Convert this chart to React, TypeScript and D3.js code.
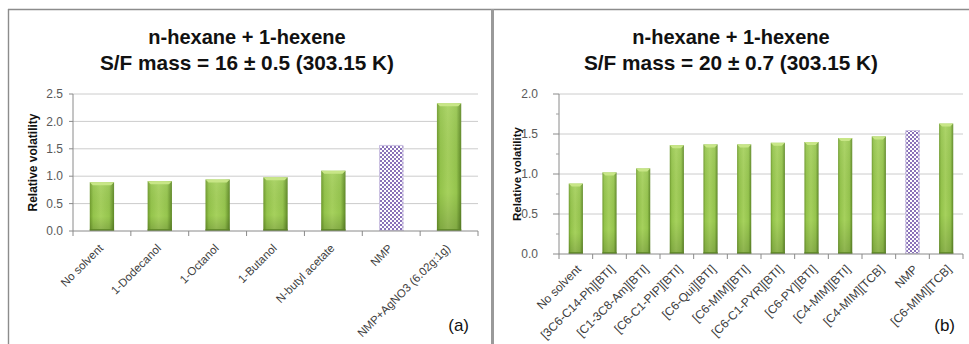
import React from "react";
import * as d3 from "d3";

// Relative volatility of n-hexane / 1-hexene with different solvents
const leftCategories = [
  "No solvent",
  "1-Dodecanol",
  "1-Octanol",
  "1-Butanol",
  "N-butyl acetate",
  "NMP",
  "NMP+AgNO3 (6.02g:1g)",
];
const leftValues = [0.89, 0.91, 0.94, 0.98, 1.1, 1.57, 2.33];
const leftTicks = [0, 0.5, 1.0, 1.5, 2.0, 2.5];

const rightCategories = [
  "No solvent",
  "[3C6-C14-Ph][BTI]",
  "[C1-3C8-Am][BTI]",
  "[C6-C1-PIP][BTI]",
  "[C6-Qui][BTI]",
  "[C6-MIM][BTI]",
  "[C6-C1-PYR][BTI]",
  "[C6-PY][BTI]",
  "[C4-MIM][BTI]",
  "[C4-MIM][TCB]",
  "NMP",
  "[C6-MIM][TCB]",
];
const rightValues = [0.88, 1.02, 1.07, 1.36, 1.37, 1.37, 1.39, 1.4, 1.45, 1.47, 1.55, 1.63];
const rightTicks = [0, 0.5, 1.0, 1.5, 2.0];
const rightMinorTicks = [0.25, 0.75, 1.25, 1.75];

const leftTitle = ["n-hexane + 1-hexene", "S/F mass = 16 \u00b1 0.5 (303.15 K)"];
const rightTitle = ["n-hexane + 1-hexene", "S/F mass = 20 \u00b1 0.7 (303.15 K)"];

const FONT = "'Liberation Sans', Arial, sans-serif";
const PATTERN_CATEGORY = "NMP";

type PanelProps = {
  id: string;
  cats: string[];
  vals: number[];
  ticks: number[];
  minor: number[];
  title: string[];
  tag: string;
  x0: number;
  x1: number;
  y0: number;
  y1: number;
  centerX: number;
  tickLabelX: number;
  yTitleX: number;
  yTitleSize: number;
  tagX: number;
  majorTick: number;
  labelDx: number;
  labelDy: number;
  labelSize: number;
};

function Panel(p: PanelProps) {
  const yMax = p.ticks[p.ticks.length - 1];
  const x = d3
    .scaleBand<string>()
    .domain(p.cats)
    .range([p.x0, p.x1])
    .paddingInner(0.58)
    .paddingOuter(0.29);
  const y = d3.scaleLinear().domain([0, yMax]).range([p.y1, p.y0]);
  const step = x.step();
  const fmt = d3.format(".1f");

  return (
    <g>
      {/* title */}
      {p.title.map((line, i) => (
        <text
          key={"title" + i}
          x={p.centerX}
          y={44 + i * 26}
          textAnchor="middle"
          fontFamily={FONT}
          fontWeight="bold"
          fontSize={i === 0 ? 20 : 20.8}
          fill="#111"
        >
          {line}
        </text>
      ))}

      {/* gridlines */}
      {p.ticks.slice(1).map((t) => (
        <line
          key={"g" + t}
          x1={p.x0}
          x2={p.x1}
          y1={y(t)}
          y2={y(t)}
          stroke="#cccccc"
          strokeWidth={1}
        />
      ))}

      {/* y axis */}
      <line x1={p.x0} x2={p.x0} y1={p.y0} y2={p.y1} stroke="#8a8a8a" strokeWidth={1} />
      {p.ticks.map((t) => (
        <g key={"t" + t}>
          <line
            x1={p.x0 - p.majorTick}
            x2={p.x0}
            y1={y(t)}
            y2={y(t)}
            stroke="#8a8a8a"
          />
          <text
            x={p.tickLabelX}
            y={y(t)}
            dy="0.35em"
            textAnchor="end"
            fontFamily={FONT}
            fontSize={12}
            fill="#595959"
          >
            {fmt(t)}
          </text>
        </g>
      ))}
      {p.minor.map((t) => (
        <line
          key={"m" + t}
          x1={p.x0 - 3}
          x2={p.x0}
          y1={y(t)}
          y2={y(t)}
          stroke="#a0a0a0"
        />
      ))}
      <text
        transform={`translate(${p.yTitleX},${(p.y0 + p.y1) / 2}) rotate(-90)`}
        textAnchor="middle"
        dy="0.35em"
        fontFamily={FONT}
        fontWeight="bold"
        fontSize={p.yTitleSize}
        fill="#111"
      >
        Relative volatility
      </text>

      {/* bars */}
      {p.cats.map((c, i) => {
        const bx = x(c) as number;
        const bw = x.bandwidth();
        const top = y(p.vals[i]);
        const h = p.y1 - top;
        if (c === PATTERN_CATEGORY) {
          return (
            <g key={c}>
              <rect x={bx} y={top} width={bw} height={h} fill="#fff" />
              <rect x={bx} y={top} width={bw} height={h} fill={`url(#${p.id}-check)`} />
              <rect
                x={bx + 0.5}
                y={top + 0.5}
                width={bw - 1}
                height={h - 1}
                fill="none"
                stroke="#cdc3e3"
                strokeWidth={1}
              />
            </g>
          );
        }
        return (
          <g key={c}>
            <rect x={bx} y={top} width={bw} height={h} fill={`url(#${p.id}-green)`} />
            <rect x={bx} y={top} width={bw} height={h} fill={`url(#${p.id}-shade)`} />
            <polygon
              points={`${bx},${top} ${bx + bw},${top} ${bx + bw - 3},${top + 3} ${bx + 3},${top + 3}`}
              fill="#c8e687"
            />
            <rect x={bx} y={p.y1 - 2} width={bw} height={2} fill="#5b8424" opacity={0.8} />
          </g>
        );
      })}

      {/* x axis */}
      <line x1={p.x0} x2={p.x1} y1={p.y1} y2={p.y1} stroke="#8a8a8a" strokeWidth={1} />
      {d3.range(p.cats.length + 1).map((i) => (
        <line
          key={"xt" + i}
          x1={p.x0 + i * step}
          x2={p.x0 + i * step}
          y1={p.y1}
          y2={p.y1 + 5}
          stroke="#8a8a8a"
        />
      ))}
      {p.cats.map((c) => {
        const cx = (x(c) as number) + x.bandwidth() / 2;
        return (
          <text
            key={"l" + c}
            transform={`translate(${cx + p.labelDx},${p.y1 + p.labelDy}) rotate(-45)`}
            textAnchor="end"
            fontFamily={FONT}
            fontSize={p.labelSize}
            fill="#404040"
          >
            {c}
          </text>
        );
      })}

      {/* panel tag */}
      <text
        x={p.tagX}
        y={331}
        textAnchor="end"
        fontFamily={FONT}
        fontSize={17}
        fill="#111"
      >
        {p.tag}
      </text>
    </g>
  );
}

function Defs({ id }: { id: string }) {
  return (
    <>
      <linearGradient id={`${id}-green`} x1="0" x2="1" y1="0" y2="0">
        <stop offset="0" stopColor="#6e9a2c" />
        <stop offset="0.14" stopColor="#94c44b" />
        <stop offset="0.45" stopColor="#a6d15d" />
        <stop offset="0.8" stopColor="#96c54e" />
        <stop offset="1" stopColor="#5e8826" />
      </linearGradient>
      <linearGradient id={`${id}-shade`} x1="0" x2="0" y1="0" y2="1">
        <stop offset="0" stopColor="#ffffff" stopOpacity={0.08} />
        <stop offset="0.7" stopColor="#000000" stopOpacity={0} />
        <stop offset="1" stopColor="#000000" stopOpacity={0.15} />
      </linearGradient>
      <pattern id={`${id}-check`} width={4} height={4} patternUnits="userSpaceOnUse">
        <rect x={0} y={0} width={2} height={2} fill="#8a72b8" />
        <rect x={2} y={2} width={2} height={2} fill="#8a72b8" />
      </pattern>
    </>
  );
}

export default function App() {
  return (
    <div style={{ position: "absolute", left: 0, top: 0 }}>
      <svg width={969} height={344} viewBox="0 0 969 344" style={{ display: "block", background: "#fff" }}>
        <defs>
          <Defs id="pa" />
          <Defs id="pb" />
        </defs>

        {/* frame */}
        <line x1={8} x2={969} y1={9.5} y2={9.5} stroke="#8c8c8c" strokeWidth={1.4} />
        <line x1={8.5} x2={8.5} y1={9} y2={344} stroke="#8c8c8c" strokeWidth={1.4} />
        <line x1={492.5} x2={492.5} y1={9} y2={344} stroke="#9a9a9a" strokeWidth={3} />

        <Panel
          id="pa"
          cats={leftCategories}
          vals={leftValues}
          ticks={leftTicks}
          minor={[]}
          title={leftTitle}
          tag="(a)"
          x0={73}
          x1={478}
          y0={94}
          y1={231}
          centerX={247}
          tickLabelX={63}
          yTitleX={33}
          yTitleSize={12}
          tagX={469}
          majorTick={4}
          labelDx={2}
          labelDy={18}
          labelSize={11.5}
        />
        <Panel
          id="pb"
          cats={rightCategories}
          vals={rightValues}
          ticks={rightTicks}
          minor={rightMinorTicks}
          title={rightTitle}
          tag="(b)"
          x0={559}
          x1={963}
          y0={94}
          y1={254}
          centerX={731}
          tickLabelX={538}
          yTitleX={517}
          yTitleSize={11.5}
          tagX={955}
          majorTick={6}
          labelDx={6}
          labelDy={16}
          labelSize={12}
        />
      </svg>
    </div>
  );
}
